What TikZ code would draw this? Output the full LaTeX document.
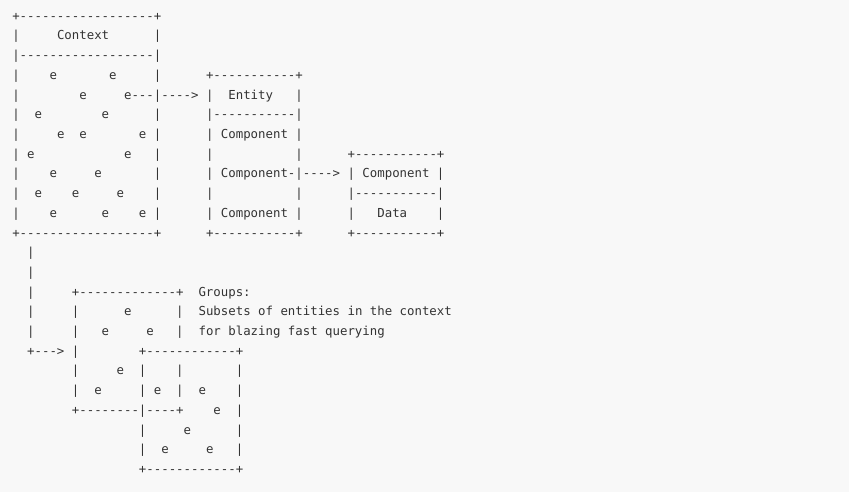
\documentclass[tikz,border=0pt]{standalone}
\usepackage{fontspec}
\setmonofont{DejaVu Sans Mono}
\ExplSyntaxOn
\cs_new:Npn \Rep #1#2 { \prg_replicate:nn {#1} {#2} }
\ExplSyntaxOff
\newcommand\Sp[1]{\Rep{#1}{\ }}
\newcommand\Da[1]{\Rep{#1}{-}}
\definecolor{bg}{RGB}{248,248,248}
\definecolor{ink}{RGB}{51,51,51}
\begin{document}
\begin{tikzpicture}[x=1pt,y=1pt,
  asciiline/.style={anchor=base west, inner sep=0pt, outer sep=0pt, text=ink,
    font=\fontsize{12.375}{19.7}\selectfont\ttfamily}]
\fill[bg] (0,0) rectangle (849,-492);
\useasboundingbox (0,0) rectangle (849,-492);
\def\X{12.3}
\node[asciiline] (l0) at (\X,-20.3) {+\Da{18}+};
\node[asciiline] (l1) at (\X,-40.0) {|\Sp{5}Context\Sp{6}|};
\node[asciiline] (l2) at (\X,-59.7) {|\Da{18}|};
\node[asciiline] (l3) at (\X,-79.4) {|\Sp{4}e\Sp{7}e\Sp{5}|\Sp{6}+\Da{11}+};
\node[asciiline] (l4) at (\X,-99.1) {|\Sp{8}e\Sp{5}e---|---->\Sp{1}|\Sp{2}Entity\Sp{3}|};
\node[asciiline] (l5) at (\X,-118.8) {|\Sp{2}e\Sp{8}e\Sp{6}|\Sp{6}|\Da{11}|};
\node[asciiline] (l6) at (\X,-138.5) {|\Sp{5}e\Sp{2}e\Sp{7}e\Sp{1}|\Sp{6}|\Sp{1}Component\Sp{1}|};
\node[asciiline] (l7) at (\X,-158.2) {|\Sp{1}e\Sp{12}e\Sp{3}|\Sp{6}|\Sp{11}|\Sp{6}+\Da{11}+};
\node[asciiline] (l8) at (\X,-177.9) {|\Sp{4}e\Sp{5}e\Sp{7}|\Sp{6}|\Sp{1}Component-|---->\Sp{1}|\Sp{1}Component\Sp{1}|};
\node[asciiline] (l9) at (\X,-197.6) {|\Sp{2}e\Sp{4}e\Sp{5}e\Sp{4}|\Sp{6}|\Sp{11}|\Sp{6}|\Da{11}|};
\node[asciiline] (l10) at (\X,-217.3) {|\Sp{4}e\Sp{6}e\Sp{4}e\Sp{1}|\Sp{6}|\Sp{1}Component\Sp{1}|\Sp{6}|\Sp{3}Data\Sp{4}|};
\node[asciiline] (l11) at (\X,-237.0) {+\Da{18}+\Sp{6}+\Da{11}+\Sp{6}+\Da{11}+};
\node[asciiline] (l12) at (\X,-256.7) {\Sp{2}|};
\node[asciiline] (l13) at (\X,-276.4) {\Sp{2}|};
\node[asciiline] (l14) at (\X,-296.1) {\Sp{2}|\Sp{5}+\Da{13}+\Sp{2}Groups:};
\node[asciiline] (l15) at (\X,-315.8) {\Sp{2}|\Sp{5}|\Sp{6}e\Sp{6}|\Sp{2}Subsets of entities in the context};
\node[asciiline] (l16) at (\X,-335.5) {\Sp{2}|\Sp{5}|\Sp{3}e\Sp{5}e\Sp{3}|\Sp{2}for blazing fast querying};
\node[asciiline] (l17) at (\X,-355.2) {\Sp{2}+--->\Sp{1}|\Sp{8}+\Da{12}+};
\node[asciiline] (l18) at (\X,-374.9) {\Sp{8}|\Sp{5}e\Sp{2}|\Sp{4}|\Sp{7}|};
\node[asciiline] (l19) at (\X,-394.6) {\Sp{8}|\Sp{2}e\Sp{5}|\Sp{1}e\Sp{2}|\Sp{2}e\Sp{4}|};
\node[asciiline] (l20) at (\X,-414.3) {\Sp{8}+\Da{8}|\Da{4}+\Sp{4}e\Sp{2}|};
\node[asciiline] (l21) at (\X,-434.0) {\Sp{17}|\Sp{5}e\Sp{6}|};
\node[asciiline] (l22) at (\X,-453.7) {\Sp{17}|\Sp{2}e\Sp{5}e\Sp{3}|};
\node[asciiline] (l23) at (\X,-473.4) {\Sp{17}+\Da{12}+};
\end{tikzpicture}
\end{document}
